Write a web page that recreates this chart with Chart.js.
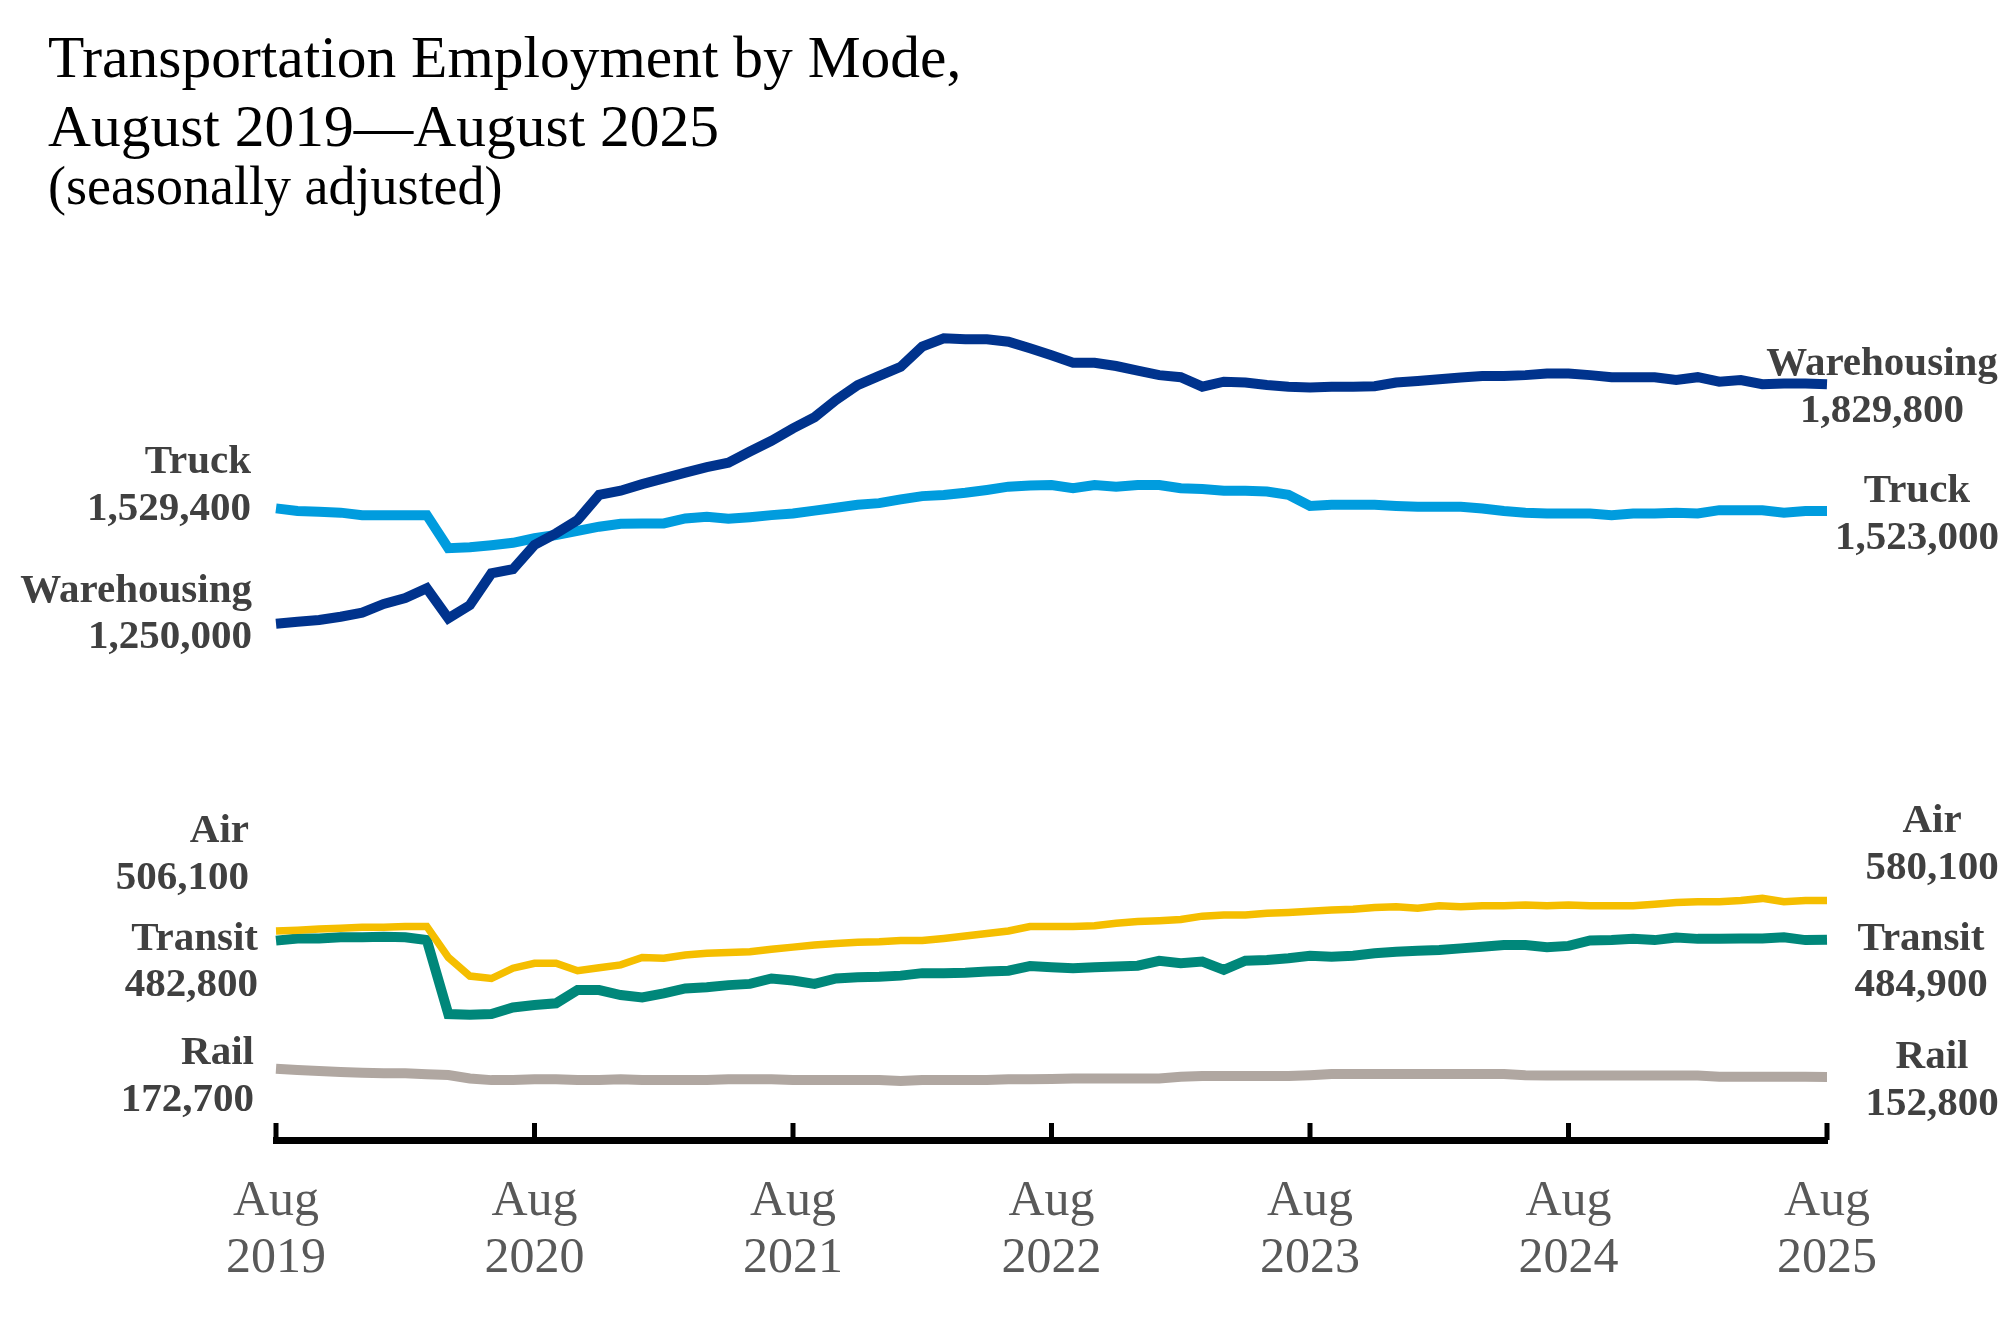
<!DOCTYPE html>
<html>
<head>
<meta charset="utf-8">
<script src="https://cdn.jsdelivr.net/npm/chart.js@4.4.1/dist/chart.umd.min.js"></script>
<style>
html,body{margin:0;padding:0;background:#fff;}
#wrap{width:2013px;height:1319px;position:relative;}
canvas{display:block;}
</style>
</head>
<body>
<div id="wrap"><canvas id="c" width="2013" height="1319"></canvas></div>
<script>
// ---- data (thousands of jobs, monthly Aug 2019 .. Aug 2025) ----
const startYear = 2019;
const monthCount = 73;
const tickYears = ['2019','2020','2021','2022','2023','2024','2025'];
const tickMonth = 'Aug';

const warehousing = [1250.0,1255,1259,1267,1277,1298,1312,1336,1263,1295,1372,1382,1441,1469,1501,1562,1572,1588,1602,1616,1629,1640,1667,1693,1723,1750,1792,1828,1850,1872,1921,1941,1939,1939,1933,1917,1900,
1882,1882,1874,1863,1852,1847,1824,1836,1834,1828,1824,1822,1824,1824,1825,1834,1838,1842,1846,1850,1850,1852,1856,1856,1852,1847,1847,1847,1840,1847,1836,1840,1830,1832,1832,1829.8];

const truck = [1529.4,1523,1521,1519,1513,1513,1513,1513,1433,1435,1440,1446,1457,1465,1475,1485,1492,1493,1493,1505,1509,1504,1508,1513,1517,1524,1531,1538,1542,1551,1559,1562,1567,1574,1582,1585,1586,
1578,1586,1582,1586,1586,1578,1576,1572,1572,1570,1562,1535,1538,1538,1538,1535,1533,1533,1533,1529,1523,1519,1517,1517,1517,1513,1517,1517,1519,1517,1525,1525,1525,1519,1523,1523.0];

const air = [506.1,508,511,513,515,515,517,517,442,397,391,416,428,428,410,417,424,442,440,448,452,454,456,462,467,472,476,479,480,483,483,488,494,500,506,517,517,
517,519,525,529,531,534,542,545,545,549,551,554,557,559,563,565,561,567,565,567,567,569,567,569,567,567,567,571,575,577,577,580,585,577,580,580.1];

const transit = [482.8,488,488,491,491,492,491,484,305,303,305,321,327,331,363,363,351,345,355,367,370,375,378,391,386,378,391,394,395,398,404,404,405,408,410,421,418,
416,418,420,422,434,428,432,412,434,436,440,446,444,446,452,456,458,460,464,468,472,472,467,470,483,484,487,484,490,487,487,488,488,491,484,484.9];

const rail = [172.7,169.5,167,164.6,163,161.4,161.4,159,157.4,149,145,145,147,147,145,145,147,145,145,145,145,147,147,147,145,145,145,145,145,143,145,145,145,145,147,147,147.7,
149,149,149,149,149,153,155,155,155,155,155,157,160,160,160,160,160,160,160,160,160,157,156,156,156,156,156,156,156,156,153,153,153,153,153,152.8];

const seriesNames = ['Warehousing','Truck','Air','Transit','Rail'];
const seriesColors = ['#00338D','#009CDE','#F5BE00','#00877A','#B0A7A1'];
const seriesWidths = [10,10,7.5,10,10];

const leftLabels = [
  ['Truck','1,529,400'],
  ['Warehousing','1,250,000'],
  ['Air','506,100'],
  ['Transit','482,800'],
  ['Rail','172,700']
];
const rightLabels = [
  ['Warehousing','1,829,800'],
  ['Truck','1,523,000'],
  ['Air','580,100'],
  ['Transit','484,900'],
  ['Rail','152,800']
];

// category labels (months)
const months = [];
for (let i = 0; i < monthCount; i++) {
  const m = (7 + i) % 12;
  const y = startYear + Math.floor((7 + i) / 12);
  months.push(y + '-' + String(m + 1).padStart(2, '0'));
}

const SERIF = "'Liberation Serif', 'Times New Roman', Times, serif";
Chart.defaults.font.family = SERIF;

// annotation layout (pixel placement of text labels)
const leftPos = [[251,473,520],[252,602,648],[249,842,889],[258,950,996],[254,1064,1111]];
const rightPos = [[1882,375,422],[1917,502,549],[1932,832,879],[1921,950,996],[1932,1068,1115]];

const decor = {
  id: 'decor',
  afterDraw(chart) {
    const ctx = chart.ctx;
    const xs = chart.scales.x;
    const area = chart.chartArea;
    ctx.save();
    // upward tick marks on x axis
    ctx.fillStyle = '#000';
    for (let i = 0; i < monthCount; i += 12) {
      const px = xs.getPixelForValue(i);
      ctx.fillRect(px - 2.5, area.bottom - 17, 5, 17);
    }
    // series labels
    ctx.fillStyle = '#404040';
    ctx.font = 'bold 41px ' + SERIF;
    ctx.textBaseline = 'alphabetic';
    ctx.textAlign = 'right';
    leftLabels.forEach((l, i) => {
      ctx.fillText(l[0], leftPos[i][0], leftPos[i][1]);
      ctx.fillText(l[1], leftPos[i][0], leftPos[i][2]);
    });
    ctx.textAlign = 'center';
    rightLabels.forEach((l, i) => {
      ctx.fillText(l[0], rightPos[i][0], rightPos[i][1]);
      ctx.fillText(l[1], rightPos[i][0], rightPos[i][2]);
    });
    ctx.restore();
  }
};

const dataArrays = [warehousing, truck, air, transit, rail];

new Chart(document.getElementById('c'), {
  type: 'line',
  data: {
    labels: months,
    datasets: dataArrays.map((d, i) => ({
      label: seriesNames[i],
      data: d,
      borderColor: seriesColors[i],
      backgroundColor: seriesColors[i],
      borderWidth: seriesWidths[i],
      pointRadius: 0,
      pointHoverRadius: 0,
      tension: 0,
      fill: false,
      borderJoinStyle: 'miter'
    }))
  },
  options: {
    responsive: false,
    animation: false,
    devicePixelRatio: 1,
    events: [],
    layout: { padding: { left: 48, right: 186, top: 0, bottom: 35 } },
    plugins: {
      legend: { display: false },
      tooltip: { enabled: false },
      title: {
        display: true,
        align: 'start',
        text: ['Transportation Employment by Mode,', 'August 2019\u2014August 2025'],
        color: '#000',
        font: { size: 59.5, weight: 'normal', lineHeight: 69/59.5 },
        padding: { top: 27, bottom: 0 }
      },
      subtitle: {
        display: true,
        align: 'start',
        text: '(seasonally adjusted)',
        color: '#000',
        font: { size: 54, weight: 'normal', lineHeight: 44/54 },
        padding: { top: 3, bottom: 102 }
      }
    },
    scales: {
      x: {
        type: 'category',
        grid: { display: false, drawTicks: false, drawOnChartArea: false },
        border: { display: true, color: '#000', width: 7 },
        ticks: {
          autoSkip: false,
          maxRotation: 0,
          minRotation: 0,
          padding: 33,
          color: '#595959',
          font: { size: 50, lineHeight: 57/50 },
          callback: function(v, idx) {
            return idx % 12 === 0 ? [tickMonth, tickYears[idx / 12]] : '';
          }
        },
        afterFit(scale) { scale.height = 144; }
      },
      y: {
        min: 0,
        max: 2000,
        display: true,
        grid: { display: false, drawTicks: false },
        border: { display: false },
        ticks: { display: false },
        afterFit(scale) { scale.width = 228; }
      }
    }
  },
  plugins: [decor]
});
</script>
</body>
</html>
